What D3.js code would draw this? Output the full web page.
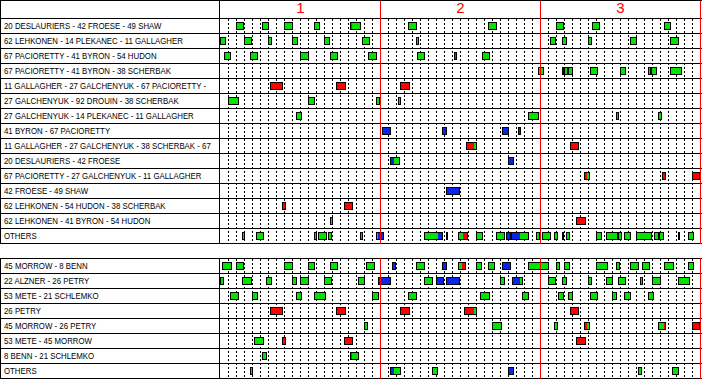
<!DOCTYPE html>
<html><head><meta charset="utf-8">
<script src="https://cdn.jsdelivr.net/npm/d3@7"></script>
<style>
html,body{margin:0;padding:0;background:#fff;}
svg{display:block;}
text{font-family:"Liberation Sans Narrow","Liberation Sans",Arial,sans-serif;}
</style></head>
<body><svg id="c" width="702" height="379"></svg>
<script>
// ---- data (times in game minutes; each shift = [t0, colour, t1, colour, t2 ...]) ----
const periods = ["1", "2", "3"];

const forwardLines = [
  "20 DESLAURIERS - 42 FROESE - 49 SHAW",
  "62 LEHKONEN - 14 PLEKANEC - 11 GALLAGHER",
  "67 PACIORETTY - 41 BYRON - 54 HUDON",
  "67 PACIORETTY - 41 BYRON - 38 SCHERBAK",
  "11 GALLAGHER - 27 GALCHENYUK - 67 PACIORETTY -",
  "27 GALCHENYUK - 92 DROUIN - 38 SCHERBAK",
  "27 GALCHENYUK - 14 PLEKANEC - 11 GALLAGHER",
  "41 BYRON - 67 PACIORETTY",
  "11 GALLAGHER - 27 GALCHENYUK - 38 SCHERBAK - 67",
  "20 DESLAURIERS - 42 FROESE",
  "67 PACIORETTY - 27 GALCHENYUK - 11 GALLAGHER",
  "42 FROESE - 49 SHAW",
  "62 LEHKONEN - 54 HUDON - 38 SCHERBAK",
  "62 LEHKONEN - 41 BYRON - 54 HUDON",
  "OTHERS"
];
const forwardShifts = [
  [[2.06,'g',3.02],[5.31,'g',6.15],[8.06,'g',9.15],[11.81,'g',12.56],[16.31,'r',16.45,'g',17.65],[23.56,'g',24.65],[33.48,'g',34.65],[42.06,'g',42.94],[46.48,'g',47.48],[55.56,'g',56.4]],
  [[0,'g',0.81],[2.98,'g',3.98],[5.98,'g',6.52],[8.98,'g',9.77],[13.06,'g',13.77],[17.69,'g',18.77],[24.44,'g',24.9],[41.19,'g',42.06],[42.81,'g',43.4],[46.06,'g',46.52],[51.19,'g',52.15],[56.19,'g',57.4]],
  [[0.48,'g',1.4],[3.81,'g',4.77],[10.06,'g',11.15],[13.81,'g',14.77],[18.56,'g',19.65],[24.65,'g',25.65],[29.19,'r',29.65],[32.69,'g',33.77]],
  [[39.81,'g',40.56],[42.69,'g',43.06],[43.06,'g',43.48],[43.48,'g',44.15],[46.31,'g',47.27],[49.94,'g',50.77],[53.56,'g',53.9],[53.9,'g',54.65],[56.31,'g',57.69]],
  [[6.31,'r',7.9],[14.44,'r',15.77],[22.44,'r',23.77]],
  [[1.06,'g',2.4],[10.94,'g',11.9],[19.44,'g',19.94],[22.31,'g',22.65]],
  [[9.56,'g',10.27],[38.44,'g',39.9],[49.44,'g',49.9],[54.69,'g',55.27]],
  [[20.31,'b',21.4],[27.69,'b',28.4],[35.31,'b',36.15],[37.31,'b',37.65]],
  [[30.81,'r',31.81,'g',32.15],[43.81,'r',44.9]],
  [[21.19,'b',21.81,'g',22.52],[36.06,'b',36.77]],
  [[45.56,'r',45.9,'g',46.27],[55.31,'r',55.77],[59.06,'r',60]],
  [[28.31,'b',30.02]],
  [[7.69,'r',8.27],[15.56,'r',16.65]],
  [[13.69,'g',14.15],[44.56,'r',45.81]],
  [[2.81,'g',3.15],[4.56,'g',5.52],[11.69,'g',12.15],[12.31,'g',13.4],[13.56,'g',14.02],[17.44,'g',17.9],[19.44,'g',19.73,'b',20.56],[25.44,'g',27.23,'b',27.9],[28.19,'b',28.52],[29.69,'g',30.35,'r',31.02],[31.94,'g',32.9],[34.44,'g',35.65],[35.81,'b',36.4],[36.4,'b',37.48,'g',38.65],[39.56,'g',40.02],[40.19,'g',41.4],[41.69,'g',42.31],[42.69,'g',43.06],[43.31,'g',43.77],[46.94,'g',47.69],[48.31,'g',49.73],[49.73,'g',50.19],[50.56,'g',51.4],[51.94,'g',54.02],[54.31,'g',54.9],[54.9,'g',55.52],[57.19,'g',57.56],[58.44,'g',59.31]]
];

const defencePairs = [
  "45 MORROW - 8 BENN",
  "22 ALZNER - 26 PETRY",
  "53 METE - 21 SCHLEMKO",
  "26 PETRY",
  "45 MORROW - 26 PETRY",
  "53 METE - 45 MORROW",
  "8 BENN - 21 SCHLEMKO",
  "OTHERS"
];
const defenceShifts = [
  [[0.31,'g',1.52],[2.06,'g',3.02],[8.06,'g',9.15],[10.94,'g',11.9],[13.69,'g',14.77],[18.19,'g',19.4],[21.56,'b',21.94],[24.44,'g',25.65],[27.69,'b',28.4],[29.69,'g',30.31,'r',30.81],[31.94,'g',32.77],[33.44,'g',34.35],[35.31,'b',36.4],[38.44,'g',41.15],[42.06,'g',42.52],[43.06,'g',43.77],[47.06,'g',48.52],[49.44,'g',49.94],[51.19,'g',52.4],[52.69,'g',53.77],[55.56,'g',56.77],[58.56,'g',59.27]],
  [[0,'g',0.52],[2.81,'g',4.02],[5.69,'g',6.52],[8.94,'g',9.65],[10.06,'g',11.15],[12.94,'g',14.02],[17.19,'g',18.15],[19.69,'b',21.4],[25.44,'g',26.65],[26.94,'b',27.94],[28.19,'b',30.02],[35.06,'g',35.65],[36.44,'b',37.48,'g',37.9],[40.94,'g',42.02],[42.81,'g',43.4],[46.06,'g',46.52],[48.31,'g',49.15],[49.69,'g',50.77],[52.56,'g',52.9],[54.06,'g',55.15],[57.19,'g',58.77]],
  [[1.31,'g',2.4],[3.94,'g',4.69],[9.44,'g',10.27],[11.69,'g',13.27],[19.06,'g',19.9],[23.56,'g',24.65],[32.56,'g',33.77],[37.69,'g',38.65],[42.31,'g',43.02],[43.56,'g',44.15],[46.31,'g',47.27],[48.94,'g',49.65],[50.56,'g',51.4],[53.56,'g',54.27]],
  [[6.31,'r',7.9],[14.44,'r',15.77],[22.44,'r',23.77],[30.44,'r',31.81,'g',32.15],[43.81,'r',44.9]],
  [[17.94,'g',18.52],[34.06,'g',35.27],[41.69,'g',42.31],[45.56,'r',45.9,'g',46.27],[54.81,'g',55.44,'r',55.77],[59.06,'r',60]],
  [[4.31,'g',5.52],[7.69,'r',8.27],[15.56,'r',16.65],[44.56,'r',45.81]],
  [[5.31,'g',5.9],[16.31,'r',16.48,'g',17.4]],
  [[3.81,'g',4.15],[21.19,'b',21.81,'g',22.65],[26.44,'g',27.27],[36.06,'b',36.77],[52.19,'g',52.77],[56.44,'g',57.4]]
];

const colours = {g: "#00e400", r: "#ff0000", b: "#0a24f0"};

// ---- drawing ----
const W = 702;
const labelW = 219;
const rowH = 15;
const x = d3.scaleLinear().domain([0, 60]).range([220.5, 700.5]);
const svg = d3.select("#c");
svg.append("rect").attr("width", W).attr("height", 379).attr("fill", "#fff");

const panels = [
  {top: 18, header: 0, labels: forwardLines, shifts: forwardShifts},
  {top: 258, header: 258, labels: defencePairs, shifts: defenceShifts}
];
const labelGroups = [];

panels.forEach(p => {
  const n = p.labels.length;
  const bottom = p.top + n * rowH;
  const y = d3.scaleBand().domain(d3.range(n)).range([p.top, bottom]);
  const g = svg.append("g").attr("shape-rendering", "crispEdges");

  // minute dotted lines
  g.selectAll("line.dot").data(d3.range(1, 60).filter(m => m % 20 !== 0)).join("line")
    .attr("x1", d => x(d)).attr("x2", d => x(d))
    .attr("y1", p.top + 1).attr("y2", bottom)
    .attr("stroke", "#000").attr("stroke-width", 1).attr("stroke-dasharray", "2,2");

  // shifts
  p.shifts.forEach((row, i) => {
    const rowTop = y(i);
    row.forEach(s => {
      const segs = [];
      for (let k = 1; k < s.length; k += 2) segs.push({a: s[k - 1], c: s[k], b: s[k + 1]});
      const x0 = Math.round(x(s[0]) - 0.5), x1 = Math.round(x(s[s.length - 1]) - 0.5);
      g.selectAll(null).data(segs).join("rect")
        .attr("x", d => Math.round(x(d.a) - 0.5))
        .attr("width", d => Math.max(1, Math.round(x(d.b) - 0.5) - Math.round(x(d.a) - 0.5)))
        .attr("y", rowTop + 4).attr("height", 8)
        .attr("fill", d => colours[d.c]);
      g.append("rect")
        .attr("x", x0 + 0.5).attr("y", rowTop + 4.5)
        .attr("width", Math.max(0, x1 - x0 - 1)).attr("height", 7)
        .attr("fill", "none").attr("stroke", "#000").attr("stroke-width", 1);
    });
  });

  // row lines
  g.selectAll("line.row").data(d3.range(n + 1)).join("line")
    .attr("x1", 0).attr("x2", W)
    .attr("y1", d => p.top + d * rowH + 0.5).attr("y2", d => p.top + d * rowH + 0.5)
    .attr("stroke", "#000");

  // column borders
  [0.5, labelW + 0.5].forEach(cx => {
    g.append("line").attr("x1", cx).attr("x2", cx)
      .attr("y1", p.header).attr("y2", bottom + 1).attr("stroke", "#000");
  });

  // period boundaries
  g.selectAll("line.per").data([20, 40, 60]).join("line")
    .attr("x1", d => x(d)).attr("x2", d => x(d))
    .attr("y1", p.header).attr("y2", bottom + 1)
    .attr("stroke", "#ff0000");

  // labels
  const lg = svg.append("g");
  lg.selectAll("text").data(p.labels).join("text")
    .attr("x", 4).attr("y", (d, i) => y(i) + 11)
    .attr("font-size", "9.5px").attr("fill", "#000")
    .text(d => d);
  labelGroups.push(lg);
});

// fit label widths: longest label should end near x = 211
let maxLen = 0;
labelGroups.forEach(lg => lg.selectAll("text").each(function () {
  maxLen = Math.max(maxLen, this.getComputedTextLength());
}));
const sx = maxLen > 0 ? 207 / maxLen : 1;
labelGroups.forEach(lg => lg.selectAll("text")
  .attr("transform", `translate(4,0) scale(${sx},1) translate(-4,0)`));

// header
svg.append("line").attr("x1", 0).attr("x2", W).attr("y1", 0.5).attr("y2", 0.5)
  .attr("stroke", "#000").attr("shape-rendering", "crispEdges");
svg.append("g").selectAll("text").data(periods).join("text")
  .attr("x", (d, i) => x(i * 20 + 10)).attr("y", 13)
  .attr("text-anchor", "middle").attr("font-size", "15px")
  .attr("font-family", "'Liberation Sans',Arial,sans-serif")
  .attr("fill", "#ff0000").text(d => d);
</script></body></html>
